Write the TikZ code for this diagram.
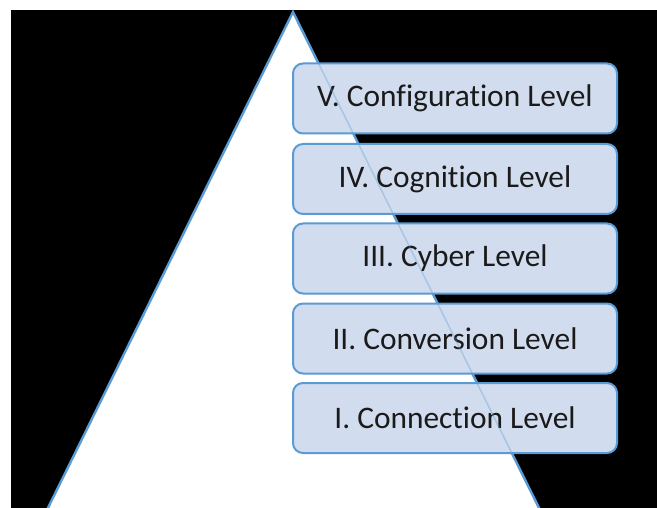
\documentclass[tikz,border=0pt]{standalone}
\usepackage{fontspec}
\setmainfont[Ligatures=NoCommon]{Carlito}
\definecolor{edgeblue}{HTML}{5B9BD5}
\definecolor{boxfill}{HTML}{D1DCEE}
\definecolor{txt}{HTML}{1A1A1A}
\begin{document}
\begin{tikzpicture}[x=1bp,y=-1bp,
  level/.style={draw=edgeblue, line width=2bp, fill=boxfill, rounded corners=10bp,
    minimum width=324bp, minimum height=70bp, inner sep=0pt, text=txt,
    font=\fontsize{31.5}{36}\selectfont},
  tri/.style={draw=edgeblue, line width=2.4bp, fill=white, line join=miter}]
\useasboundingbox (0,0) rectangle (657,508);
\fill[white] (0,0) rectangle (657,508);
\fill[black] (11,10) rectangle (657,508);
\begin{scope}
\clip (0,0) rectangle (657,508);
\coordinate (apex) at (293,12);
\coordinate (bl) at (42,520);
\coordinate (br) at (545,520);
\draw[tri] (apex) -- (bl) -- (br) -- cycle;
\node[level] (b5) at (455,98.5) {V. Configuration Level};
\node[level] (b4) at (455,179) {IV. Cognition Level};
\node[level] (b3) at (455,258.5) {III. Cyber Level};
\node[level] (b2) at (455,338.5) {II. Conversion Level};
\node[level] (b1) at (455,418) {I. Connection Level};
\draw[edgeblue, line width=1.5bp, draw opacity=0.35] (apex) -- (br);
\end{scope}
\end{tikzpicture}
\end{document}
